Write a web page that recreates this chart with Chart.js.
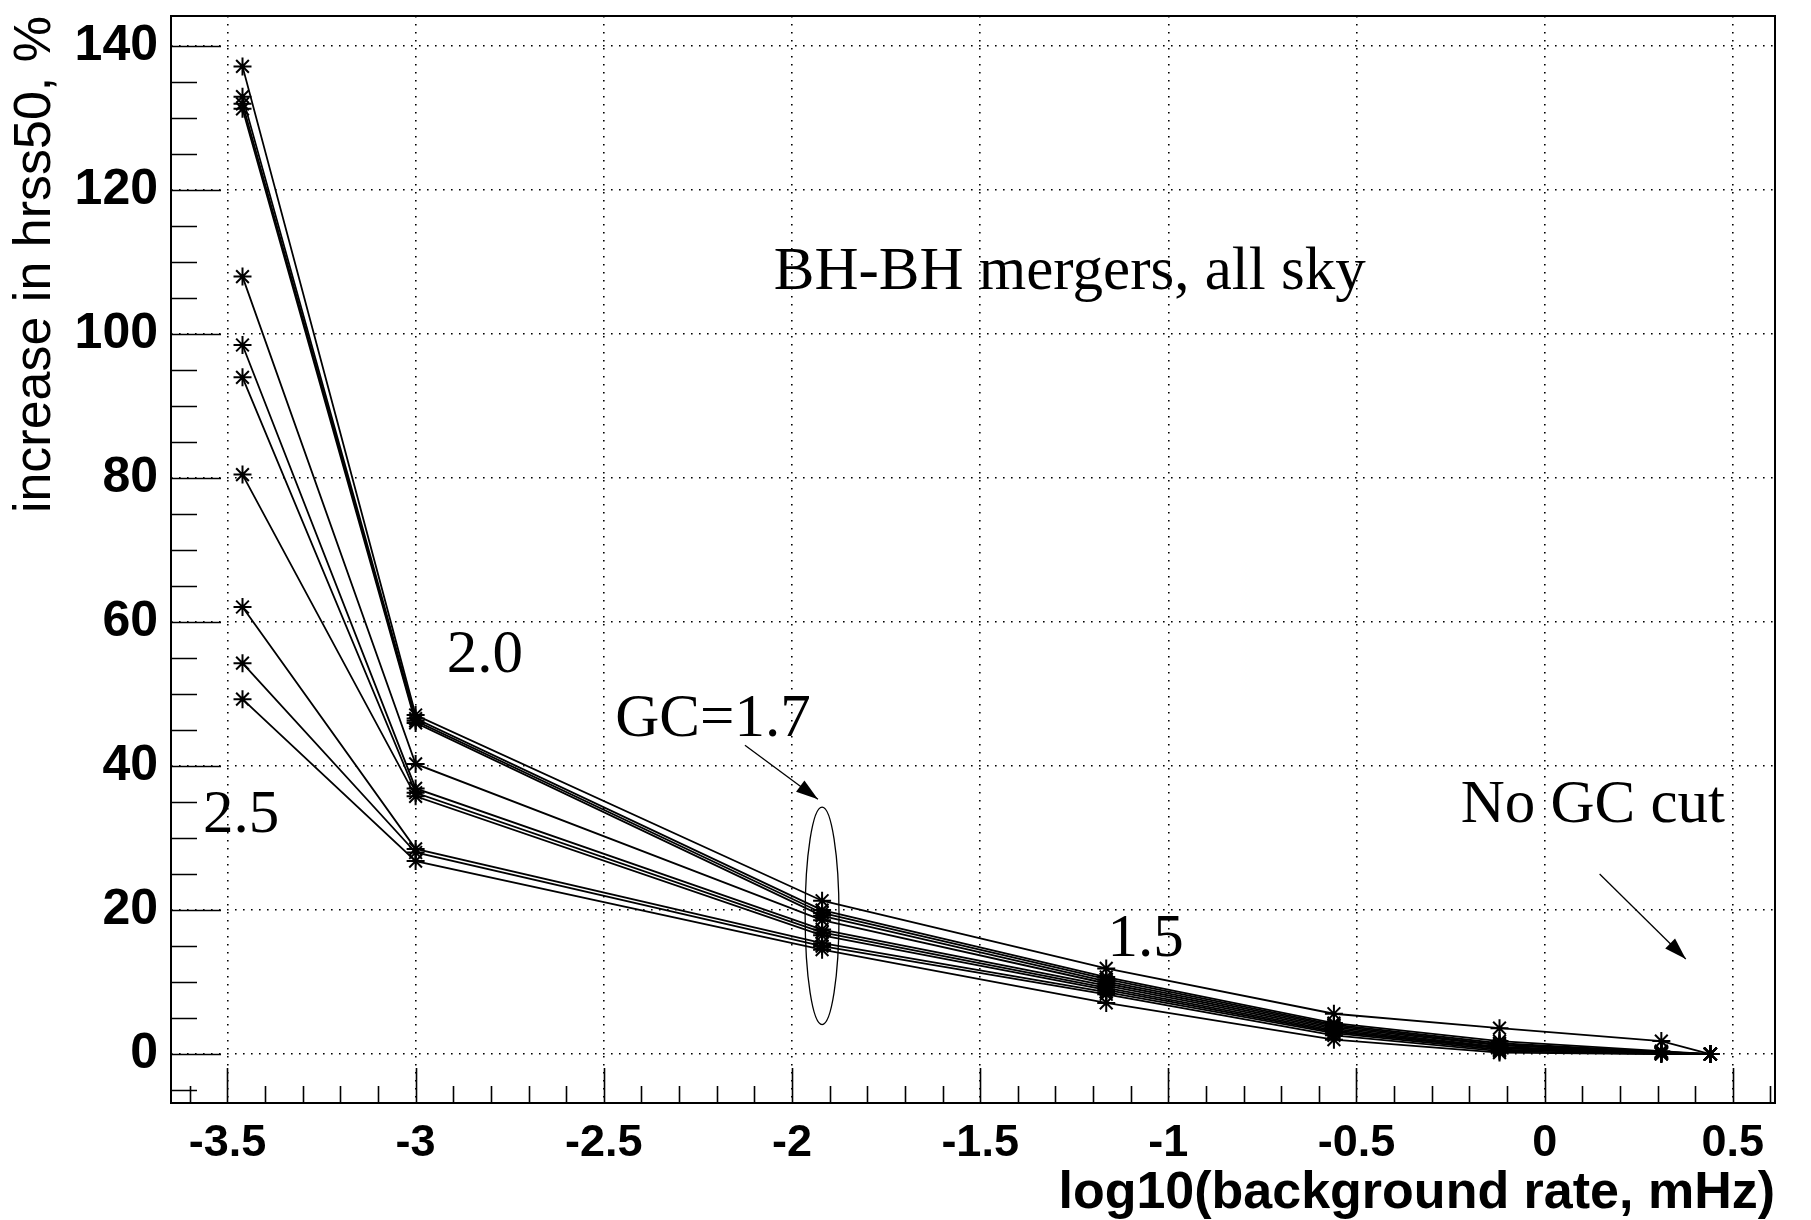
<!DOCTYPE html>
<html>
<head>
<meta charset="utf-8">
<title>increase in hrss50 vs background rate</title>
<script src="https://cdn.jsdelivr.net/npm/chart.js@4.4.0/dist/chart.umd.min.js"></script>
<style>
  html, body { margin: 0; padding: 0; background: #fff; }
  canvas { display: block; }
</style>
</head>
<body>
<canvas id="myChart" width="1811" height="1220"></canvas>
<script>
// log10 of the background rate (mHz) for each GC threshold, the last one is "no GC cut"
const rates = [-3.46, -3.0, -1.92, -1.165, -0.56, -0.12, 0.31, 0.44];

// increase in hrss50 (%), one array per waveform
const wf1  = [137.2, 47.1, 21.3, 11.9, 5.6, 3.6, 1.8, 0];
const wf2  = [133.0, 46.6, 20.0, 10.7, 4.3, 1.8, 0.4, 0];
const wf3  = [132.0, 46.3, 19.6, 10.4, 4.1, 1.5, 0.3, 0];
const wf4  = [131.3, 46.0, 19.2, 10.1, 3.9, 1.3, 0.3, 0];
const wf5  = [108.0, 40.3, 18.6,  9.8, 3.7, 1.2, 0.2, 0];
const wf6  = [ 98.5, 36.9, 17.3,  9.5, 3.5, 1.0, 0.2, 0];
const wf7  = [ 94.0, 36.3, 16.9,  9.2, 3.3, 0.9, 0.1, 0];
const wf8  = [ 80.5, 35.8, 16.5,  8.9, 3.1, 0.8, 0.1, 0];
const wf9  = [ 62.1, 28.5, 15.4,  8.6, 2.9, 0.6, 0.1, 0];
const wf10 = [ 54.3, 28.0, 15.0,  8.3, 2.6, 0.4, 0.0, 0];
const wf11 = [ 49.3, 26.8, 14.5,  7.1, 2.0, 0.2, 0.0, 0];
const waveforms = [wf1, wf2, wf3, wf4, wf5, wf6, wf7, wf8, wf9, wf10, wf11];

// GC threshold labels written next to the curves
const gcLabels = ['2.5', '2.0', 'GC=1.7', '1.5', 'No GC cut'];

// axis ranges
const xRange = [-3.65, 0.612];
const yRange = [-6.8, 144.2];

// annotation placement, in data units
const notes = [
  {text: 'BH-BH mergers, all sky', x: -1.262, y: 106.3},
  {text: gcLabels[1], x: -2.816, y: 53.1},
  {text: gcLabels[2], x: -2.21, y: 44.2},
  {text: gcLabels[0], x: -3.464, y: 30.8},
  {text: gcLabels[3], x: -1.06, y: 13.6},
  {text: gcLabels[4], x: 0.128, y: 32.2}
];
const arrows = [
  {from: [-2.125, 42.9], to: [-1.931, 35.4]},
  {from: [0.146, 25.0], to: [0.375, 13.2]}
];
const ring = {x: -1.92, y: 19.2, rx: 0.045, ry: 15.1};

const rootFrame = {
  id: 'rootFrame',
  afterDatasetsDraw(chart) {
    const {ctx, chartArea: a, scales: {x, y}} = chart;
    ctx.save();
    ctx.strokeStyle = '#000';
    ctx.fillStyle = '#000';

    // frame
    ctx.lineWidth = 2;
    ctx.strokeRect(a.left, a.top, a.right - a.left, a.bottom - a.top);

    // ticks pointing inside, major and minor
    ctx.lineWidth = 1.6;
    ctx.beginPath();
    for (let i = Math.ceil(y.min / 5); i * 5 <= y.max; i++) {
      const py = Math.round(y.getPixelForValue(i * 5)) + 0.5;
      const len = i % 4 === 0 ? 50 : 26;
      ctx.moveTo(a.left, py);
      ctx.lineTo(a.left + len, py);
    }
    for (let i = Math.ceil(x.min * 10); i <= Math.floor(x.max * 10); i++) {
      const px = Math.round(x.getPixelForValue(i / 10)) + 0.5;
      const len = i % 5 === 0 ? 35 : 17;
      ctx.moveTo(px, a.bottom);
      ctx.lineTo(px, a.bottom - len);
    }
    ctx.stroke();

    // labels
    ctx.font = '61px "Liberation Serif", "Times New Roman", serif';
    ctx.textAlign = 'center';
    ctx.textBaseline = 'alphabetic';
    notes.forEach(n => ctx.fillText(n.text, x.getPixelForValue(n.x), y.getPixelForValue(n.y)));

    // arrows
    ctx.lineWidth = 1.3;
    arrows.forEach(ar => {
      const x1 = x.getPixelForValue(ar.from[0]), y1 = y.getPixelForValue(ar.from[1]);
      const x2 = x.getPixelForValue(ar.to[0]), y2 = y.getPixelForValue(ar.to[1]);
      const ang = Math.atan2(y2 - y1, x2 - x1);
      ctx.beginPath();
      ctx.moveTo(x1, y1);
      ctx.lineTo(x2, y2);
      ctx.stroke();
      const hl = 22, hw = 7;
      ctx.beginPath();
      ctx.moveTo(x2, y2);
      ctx.lineTo(x2 - hl * Math.cos(ang) + hw * Math.sin(ang), y2 - hl * Math.sin(ang) - hw * Math.cos(ang));
      ctx.lineTo(x2 - hl * Math.cos(ang) - hw * Math.sin(ang), y2 - hl * Math.sin(ang) + hw * Math.cos(ang));
      ctx.closePath();
      ctx.fill();
    });

    // ellipse round the GC=1.7 points
    const cx = x.getPixelForValue(ring.x), cy = y.getPixelForValue(ring.y);
    const rx = x.getPixelForValue(ring.x + ring.rx) - cx;
    const ry = cy - y.getPixelForValue(ring.y + ring.ry);
    ctx.beginPath();
    ctx.ellipse(cx, cy, rx, ry, 0, 0, Math.PI * 2);
    ctx.stroke();

    ctx.restore();
  }
};

const ctx = document.getElementById('myChart').getContext('2d');
const tickFont = {family: '"Liberation Sans", Arial, sans-serif', weight: 'bold'};

const myChart = new Chart(ctx, {
  type: 'scatter',
  data: {
    datasets: waveforms.map(w => ({
      data: w.map((v, i) => ({x: rates[i], y: v})),
      showLine: true,
      borderColor: '#000',
      borderWidth: 1.8,
      tension: 0,
      pointStyle: 'star',
      pointRadius: 9,
      pointBorderWidth: 2,
      pointBorderColor: '#000',
      pointBackgroundColor: '#000'
    }))
  },
  options: {
    responsive: false,
    animation: false,
    layout: {padding: {top: 16, right: 36, left: 0, bottom: 0}},
    plugins: {legend: {display: false}, tooltip: {enabled: false}},
    scales: {
      x: {
        type: 'linear',
        min: xRange[0],
        max: xRange[1],
        afterFit: s => { s.height = 117; s.paddingLeft = 0; s.paddingRight = 0; },
        ticks: {
          stepSize: 0.5,
          includeBounds: false,
          autoSkip: false,
          maxRotation: 0,
          padding: 14,
          color: '#000',
          font: {...tickFont, size: 45},
          callback: v => String(Math.round(v * 10) / 10)
        },
        grid: {color: '#000', lineWidth: 1.6, drawTicks: false},
        border: {display: false, dash: [1.6, 6.4]},
        title: {
          display: true,
          text: 'log10(background rate, mHz)',
          align: 'end',
          color: '#000',
          padding: {top: 6, bottom: 0},
          font: {...tickFont, size: 52, lineHeight: 1}
        }
      },
      y: {
        type: 'linear',
        min: yRange[0],
        max: yRange[1],
        afterFit: s => { s.width = 171; s.paddingTop = 0; s.paddingBottom = 0; },
        ticks: {
          stepSize: 20,
          includeBounds: false,
          padding: 13,
          color: '#000',
          font: {...tickFont, size: 50},
          callback: v => String(Math.round(v))
        },
        grid: {color: '#000', lineWidth: 1.6, drawTicks: false},
        border: {display: false, dash: [1.6, 6.4]},
        title: {
          display: true,
          text: 'increase in hrss50, %',
          align: 'end',
          color: '#000',
          padding: {top: 10, bottom: 0},
          font: {family: '"Liberation Sans", Arial, sans-serif', weight: 'normal', size: 52, lineHeight: 1}
        }
      }
    }
  },
  plugins: [rootFrame]
});
</script>
</body>
</html>
